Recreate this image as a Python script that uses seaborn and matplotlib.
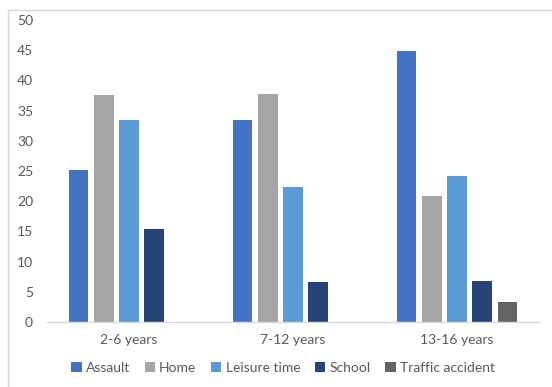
import matplotlib
matplotlib.use("Agg")
import matplotlib.pyplot as plt
from matplotlib.patches import Patch
from matplotlib.lines import Line2D
import seaborn as sns
import pandas as pd

categories = ["2-6 years", "7-12 years", "13-16 years"]
series = ["Assault", "Home", "Leisure time", "School", "Traffic accident"]
assault = [25.1, 33.4, 44.9]
home = [37.6, 37.8, 20.8]
leisure = [33.4, 22.3, 24.2]
school = [15.4, 6.6, 6.8]
traffic = [0, 0, 3.3]
yticks = [0, 5, 10, 15, 20, 25, 30, 35, 40, 45, 50]

colors = ["#4472C4", "#A5A5A5", "#5B9BD5", "#264478", "#636363"]

rows = []
for name, vals in zip(series, [assault, home, leisure, school, traffic]):
    for c, v in zip(categories, vals):
        rows.append({"cat": c, "series": name, "value": v})
df = pd.DataFrame(rows)

sns.set_theme(style="white")
plt.rcParams['font.family'] = ['Lato', 'DejaVu Sans']
text_color = "#595959"

fig = plt.figure(figsize=(5.52, 3.87), dpi=100)
ax = fig.add_axes([47/552, 1-322/387, (539-47)/552, (322-20)/387])

sns.barplot(data=df, x="cat", y="value", hue="series", order=categories,
            hue_order=series, palette=colors, width=0.768, gap=0.22,
            ax=ax, legend=False, linewidth=0, errorbar=None, saturation=1)

ax.set_ylim(0, 50)
ax.set_xlim(-0.5, 2.5)
ax.set_yticks(yticks)
ax.set_yticklabels([str(t) for t in yticks])
ax.set_xlabel("")
ax.set_ylabel("")
for s in ["top", "right", "left"]:
    ax.spines[s].set_visible(False)
ax.spines["bottom"].set_color("#D9D9D9")
ax.spines["bottom"].set_linewidth(1)
ax.tick_params(axis="y", length=0, pad=10, labelsize=10, labelcolor=text_color)
ax.tick_params(axis="x", length=0, pad=9, labelsize=10, labelcolor=text_color)
ax.grid(False)

handles = [Patch(facecolor=c, edgecolor="none", label=s) for c, s in zip(colors, series)]
fig.legend(handles=handles, loc="center", bbox_to_anchor=(283/552, 1-368/387),
           ncol=5, frameon=False, fontsize=10, labelcolor=text_color,
           handlelength=0.75, handleheight=0.75, handletextpad=0.3, columnspacing=1.05)

# chart border (left and top visible)
fig.add_artist(Line2D([8/552, 8/552], [0, 1-10/387], color="#D9D9D9", lw=1, transform=fig.transFigure))
fig.add_artist(Line2D([8/552, 1], [1-10/387, 1-10/387], color="#D9D9D9", lw=1, transform=fig.transFigure))

fig.savefig("out.png", dpi=100)
